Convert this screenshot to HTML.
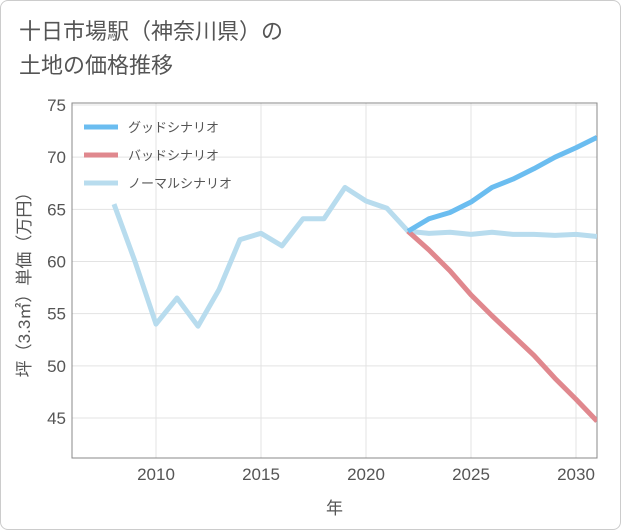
<!DOCTYPE html>
<html><head><meta charset="utf-8"><style>
body{margin:0;background:#fff;}
#wrap{position:relative;width:619px;height:528px;border:1px solid #ccc;border-radius:8px;overflow:hidden;background:#fff;font-family:"Liberation Sans","Noto Sans CJK JP",sans-serif;}
#title{position:absolute;left:18px;top:14px;font-size:22px;line-height:34px;color:#555;}
</style></head><body>
<div id="wrap">
<div id="title">十日市場駅（神奈川県）の<br>土地の価格推移</div>
<svg id="chart" width="621" height="530" style="position:absolute;left:-1px;top:-1px"></svg>
</div>
<script>
const years=[2008,2009,2010,2011,2012,2013,2014,2015,2016,2017,2018,2019,2020,2021,2022,2023,2024,2025,2026,2027,2028,2029,2030,2031];
const normalValues=[65.5,60,54,56.5,53.8,57.3,62.1,62.7,61.5,64.1,64.1,67.1,65.8,65.1,62.9,62.7,62.8,62.6,62.8,62.6,62.6,62.5,62.6,62.4];
const futureYears=[2022,2023,2024,2025,2026,2027,2028,2029,2030,2031];
const goodValues=[62.9,64.1,64.7,65.7,67.1,67.9,68.9,70.0,70.9,71.9];
const badValues=[62.9,61.1,59.1,56.8,54.8,52.9,51.0,48.8,46.8,44.7];
const yTicks=[45,50,55,60,65,70,75];
const xTicks=[2010,2015,2020,2025,2030];
const legendLabels=["グッドシナリオ","バッドシナリオ","ノーマルシナリオ"];
const NS="http://www.w3.org/2000/svg";
const svg=document.getElementById('chart');
const L=72,R=597,T=103,B=458;
const xS=v=>156+(v-2010)*21;
const yS=v=>105+(75-v)*(313/30);
function mk(t,a){const e=document.createElementNS(NS,t);for(const k in a)e.setAttribute(k,a[k]);svg.appendChild(e);return e;}
for(const v of yTicks){const g=mk('line',{x1:L,x2:R,y1:yS(v),y2:yS(v),stroke:'#e3e3e3'});


const t=mk('text',{x:L-6,y:yS(v)+6,'text-anchor':'end','font-size':17,fill:'#555'});t.textContent=v;

}
for(const v of xTicks){const g=mk('line',{x1:xS(v),x2:xS(v),y1:T,y2:B,stroke:'#e3e3e3'});


const t=mk('text',{x:xS(v),y:B+22,'text-anchor':'middle','font-size':17,fill:'#555'});t.textContent=v;

}
const fr=mk('rect',{x:L,y:T,width:R-L,height:B-T,fill:'none',stroke:'#888'});


const xt=mk('text',{x:(L+R)/2,y:514,'text-anchor':'middle','font-size':17,fill:'#555'});xt.textContent='年';


const yt=mk('text',{x:0,y:0,'text-anchor':'middle','font-size':17,fill:'#555',transform:`translate(30,${(T+B)/2}) rotate(-90)`});yt.textContent='坪（3.3㎡）単価（万円）';


const clip=mk('clipPath',{id:'c'});const cr=document.createElementNS(NS,'rect');cr.setAttribute('x',L);cr.setAttribute('y',T);cr.setAttribute('width',R-L);cr.setAttribute('height',B-T);clip.appendChild(cr);
function line(xs,vs,color,name){const p=mk('polyline',{points:xs.map((x,i)=>xS(x)+','+yS(vs[i])).join(' '),fill:'none',stroke:color,'stroke-width':5,'stroke-linejoin':'round','clip-path':'url(#c)'});

}
line(years,normalValues,'#b8dcee','normal-scenario-line');
line(futureYears,badValues,'#e0888e','bad-scenario-line');
line(futureYears,goodValues,'#6bbdf0','good-scenario-line');
const lc=['#6bbdf0','#e0888e','#b8dcee'];
legendLabels.forEach((s,i)=>{const y=127+i*28;
const l=mk('line',{x1:84,x2:118,y1:y,y2:y,stroke:lc[i],'stroke-width':5});


const t=mk('text',{x:128,y:y+5,'font-size':13,fill:'#555'});t.textContent=s;

});
</script>
</body></html>
